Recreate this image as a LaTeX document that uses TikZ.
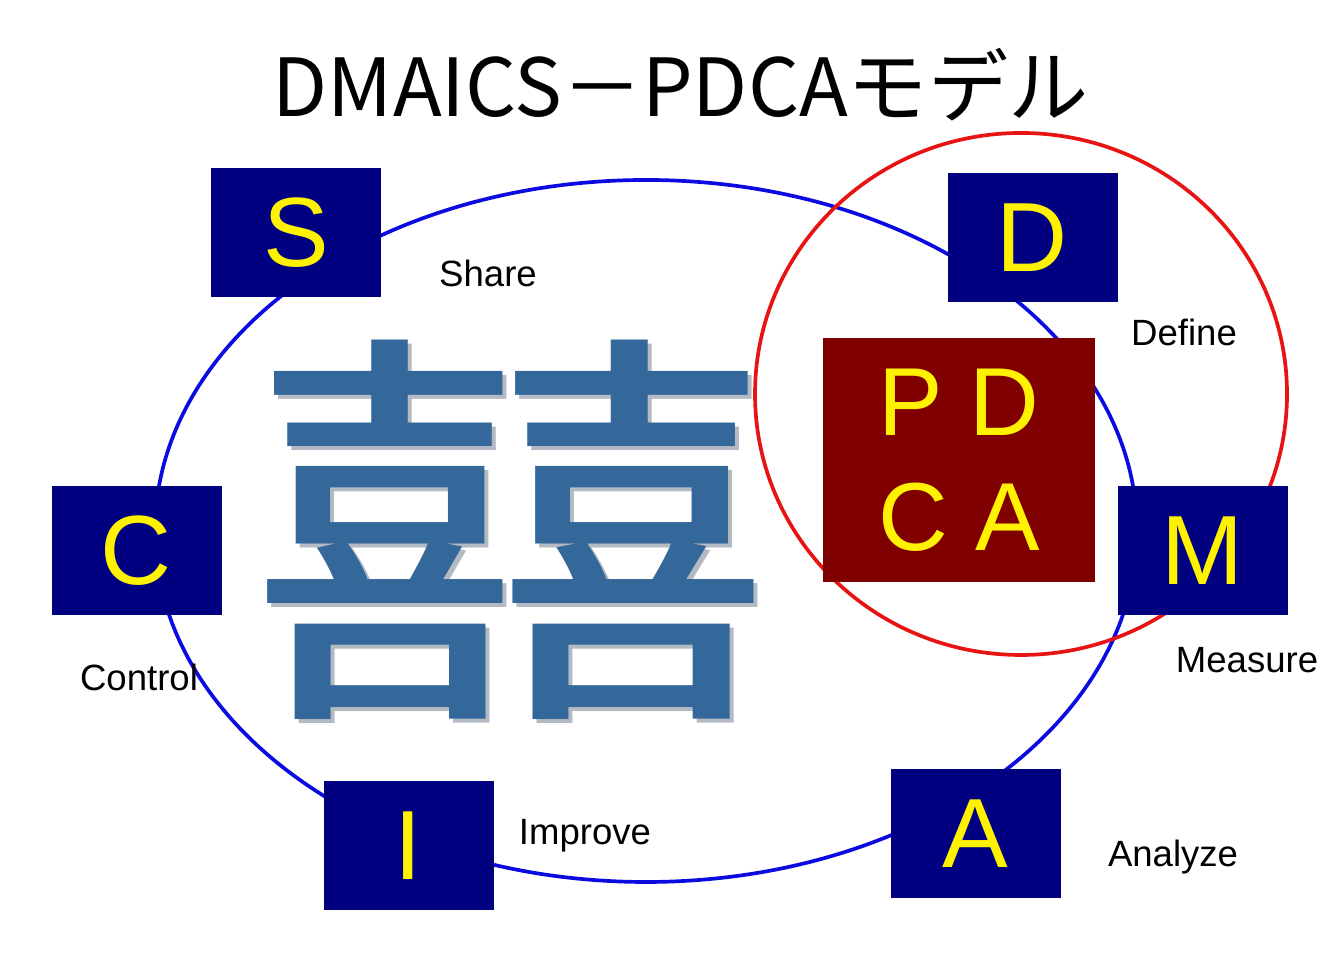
\documentclass[tikz,border=0pt]{standalone}
\usepackage{fontspec}
\setmainfont{Liberation Sans}
\newfontfamily\jpfont{Noto Sans CJK JP}
\usetikzlibrary{positioning, calc}

\definecolor{navybox}{RGB}{0,0,128}
\definecolor{maroonbox}{RGB}{128,0,0}
\definecolor{ringblue}{RGB}{10,10,225}
\definecolor{ringred}{RGB}{232,20,20}
\definecolor{kanjiblue}{RGB}{52,103,154}
\definecolor{kanjishade}{RGB}{180,186,196}

\tikzset{
  letterbox/.style={fill=navybox, minimum width=1.70cm, minimum height=1.29cm,
    inner sep=0pt, text=yellow, font=\fontsize{28}{28}\selectfont},
  phaselabel/.style={anchor=base, inner sep=0pt, font=\fontsize{10.4}{12}\selectfont},
}

\begin{document}
\begin{tikzpicture}[line join=round, line cap=round]
      \useasboundingbox (0,0) rectangle (13.43,9.54);
      % rings
      \draw[ringblue, line width=1.05pt] (6.46,4.23) ellipse (4.91 and 3.51);
      \draw[ringred, line width=1.05pt] (10.21,5.60) ellipse (2.66 and 2.61);
      % title
      \node[anchor=base, inner sep=0pt, font=\jpfont\fontsize{22.8}{24}\selectfont] (title) at (6.805,8.37) {DMAICS－PDCAモデル};
      % big character with shadow
      \node[text=kanjishade, font=\jpfont\fontsize{117.5}{118}\selectfont] (kanjishadow) at (5.15,4.20) {\scalebox{1.28}[1]{囍}};
      \node[text=kanjiblue, font=\jpfont\fontsize{117.5}{118}\selectfont] (kanji) at (5.11,4.24) {\scalebox{1.28}[1]{囍}};
      % PDCA core
      \node[fill=maroonbox, minimum width=2.72cm, minimum height=2.44cm, inner sep=0pt,
            text=yellow, align=center, font=\fontsize{27.5}{32.7}\selectfont] (pdca) at (9.59,4.94) {P D\\C A};
      % phase boxes
      \node[letterbox] (S) at (2.96,7.215) {S};
      \node[letterbox] (D) at (10.325,7.165) {D};
      \node[letterbox] (C) at (1.365,4.035) {C};
      \node[letterbox] (M) at (12.025,4.035) {M};
      \node[letterbox] (I) at (4.085,1.085) {I};
      \node[letterbox] (A) at (9.755,1.205) {A};
      % phase names
      \node[phaselabel] (share) at (4.88,6.67) {Share};
      \node[phaselabel] (define) at (11.84,6.08) {Define};
      \node[phaselabel] (measure) at (12.47,2.81) {Measure};
      \node[phaselabel] (analyze) at (11.73,0.87) {Analyze};
      \node[phaselabel] (improve) at (5.85,1.09) {Improve};
      \node[phaselabel] (control) at (1.39,2.63) {Control};
\end{tikzpicture}
\end{document}
